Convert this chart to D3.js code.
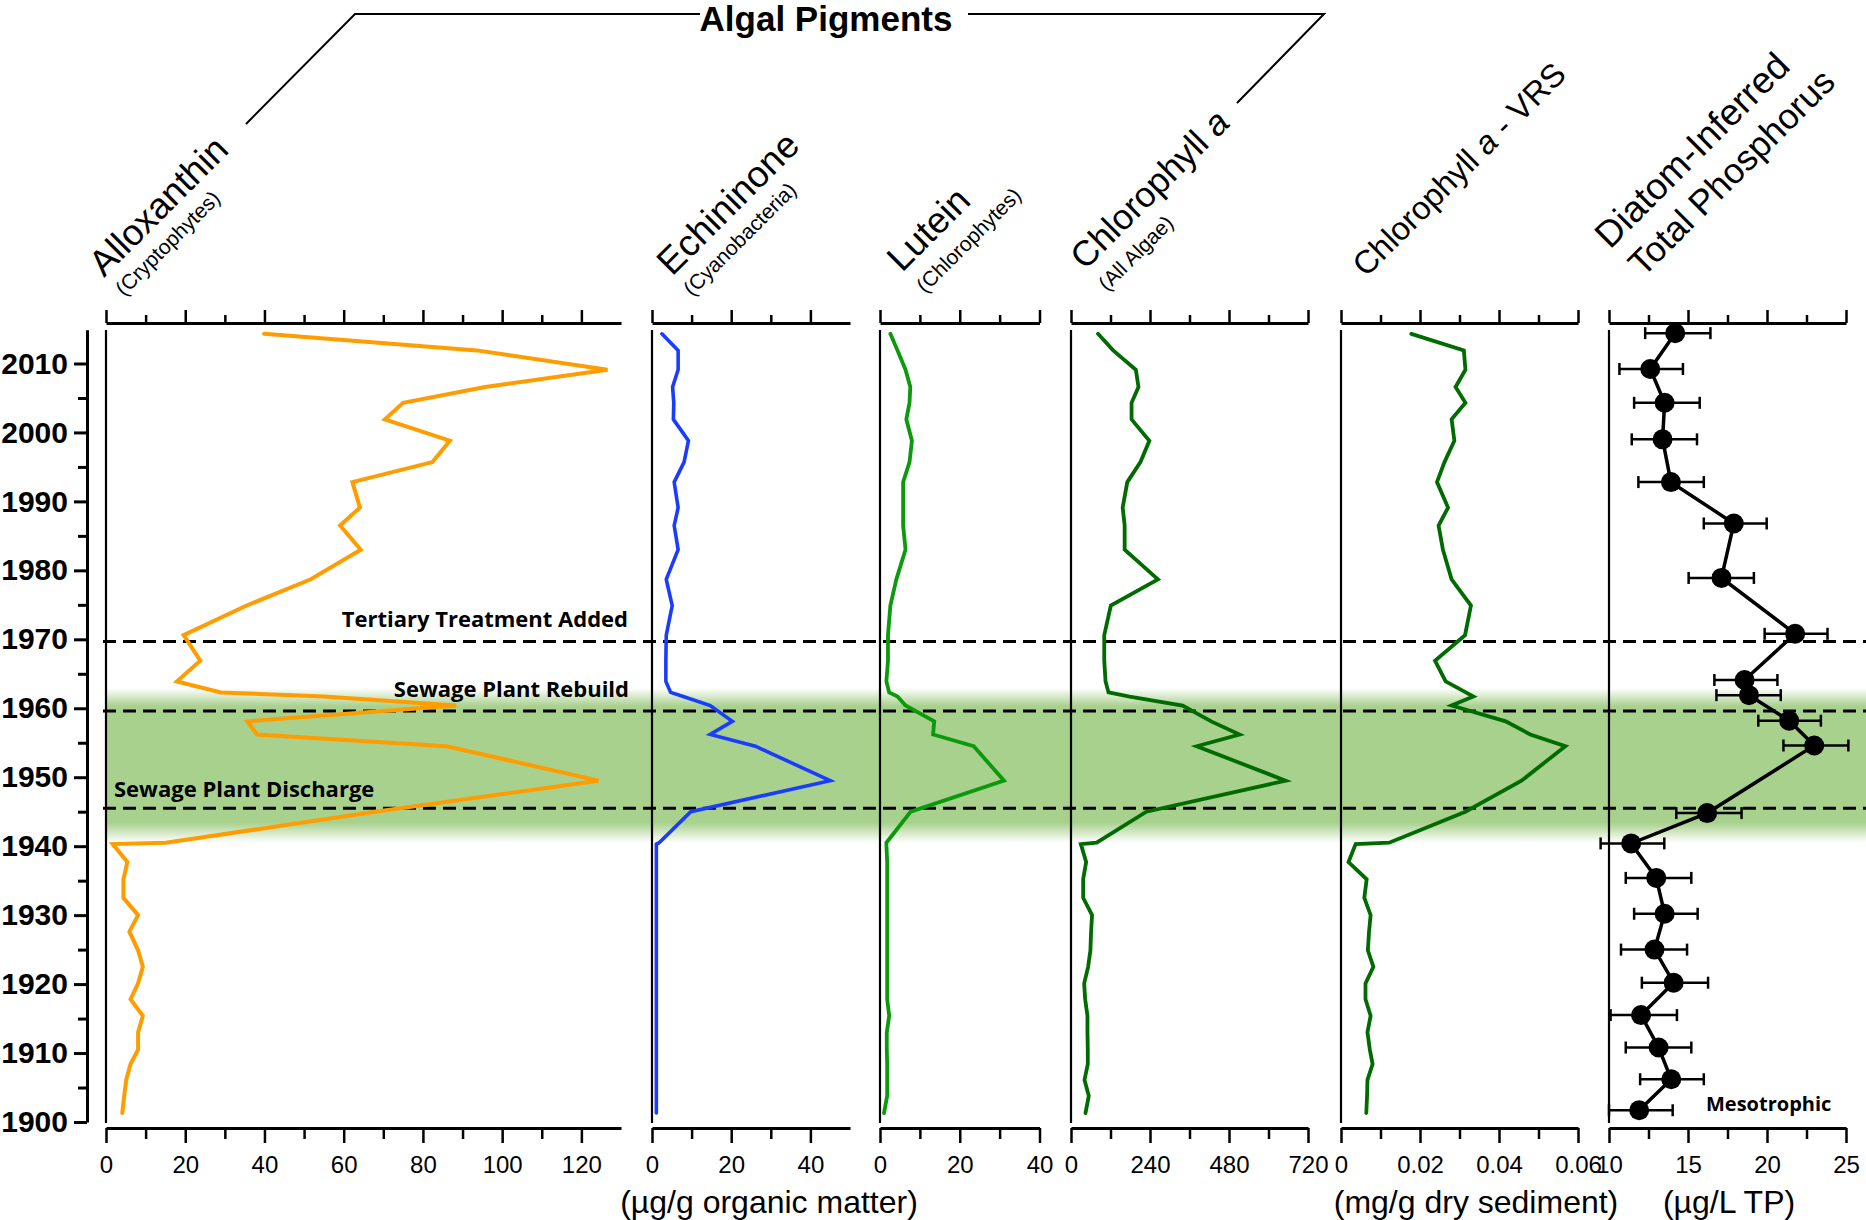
<!DOCTYPE html>
<html>
<head>
<meta charset="utf-8">
<script src="https://cdn.jsdelivr.net/npm/d3@7/dist/d3.min.js"></script>
<style>
  body { margin: 0; background: #fff; }
  svg text { font-family: "Liberation Sans", Arial, Helvetica, sans-serif; }
</style>
</head>
<body>
<svg id="chart" width="1866" height="1220"></svg>
<script>
// ---- Sediment core samples (age, years AD) ----
const sampleYears = [2014.3, 2011.9, 2009.1, 2006.6, 2004.3, 2001.9, 1998.8, 1995.7, 1992.8, 1989.1,
  1986.5, 1983.0, 1978.7, 1974.9, 1970.6, 1966.9, 1963.9, 1962.3, 1961.7, 1960.4,
  1958.1, 1956.2, 1954.5, 1949.5, 1945.0, 1940.5, 1940.3, 1937.7, 1935.2, 1932.5,
  1930.0, 1927.6, 1924.9, 1922.5, 1920.1, 1917.8, 1915.4, 1913.0, 1910.5, 1908.4,
  1906.1, 1903.8, 1901.3];

// Pigments, µg/g organic matter
const alloxanthin = [39.9, 93.6, 126.6, 95.7, 75.0, 70.4, 86.8, 82.4, 62.2, 64.1,
  59.1, 64.3, 51.7, 35.5, 19.6, 23.8, 17.9, 29.0, 54.9, 88.4,
  35.7, 38.1, 86.0, 124.3, 68.0, 15.1, 1.7, 5.4, 4.4, 4.4,
  8.1, 5.9, 8.1, 9.3, 8.1, 6.2, 9.3, 8.1, 8.1, 6.2,
  5.1, 4.6, 4.1];
const echininone = [2.5, 6.6, 6.6, 5.2, 5.5, 5.4, 9.2, 8.1, 5.6, 6.6,
  5.6, 6.6, 3.6, 5.1, 3.6, 3.5, 3.5, 4.7, 7.9, 14.7,
  20.3, 14.7, 26.1, 45.0, 9.8, 1.8, 1.1, 1.1, 1.1, 1.1,
  1.1, 1.1, 1.1, 1.1, 1.1, 1.1, 1.1, 1.1, 1.1, 1.1,
  1.1, 1.1, 1.1];
const lutein = [2.6, 4.4, 6.4, 7.6, 7.4, 6.6, 8.0, 7.4, 5.8, 5.8,
  5.8, 6.4, 4.1, 2.6, 2.0, 2.0, 1.6, 2.3, 4.4, 6.4,
  13.6, 13.3, 23.5, 31.1, 7.7, 1.6, 1.6, 1.8, 1.8, 1.8,
  1.8, 1.8, 1.8, 1.8, 1.8, 1.8, 2.3, 1.7, 1.7, 1.8,
  1.8, 1.8, 1.0];
const chlorophyllA = [82, 128, 197, 205, 184, 184, 238, 211, 171, 157,
  163, 163, 264, 121, 101, 101, 105, 114, 178, 339,
  426, 512, 382, 652, 229, 78, 30, 46, 37, 37,
  64, 61, 59, 52, 40, 43, 50, 50, 51, 51,
  41, 54, 44];
// Chlorophyll a by VRS, mg/g dry sediment
const chlorophyllVRS = [0.0178, 0.0311, 0.0315, 0.0290, 0.0315, 0.0280, 0.0287, 0.0262, 0.0243, 0.0271,
  0.0247, 0.0258, 0.0280, 0.0329, 0.0314, 0.0238, 0.0265, 0.0316, 0.0335, 0.0280,
  0.0417, 0.0479, 0.0568, 0.0457, 0.0315, 0.0122, 0.0037, 0.0019, 0.0065, 0.0059,
  0.0075, 0.0071, 0.0068, 0.0082, 0.0062, 0.0062, 0.0075, 0.0067, 0.0073, 0.0080,
  0.0067, 0.0066, 0.0064];

// Diatom-inferred total phosphorus (µg/L) with error range
const tpYears = [2014.4, 2009.2, 2004.3, 1999.0, 1992.8, 1986.8, 1978.9, 1970.8, 1964.1, 1961.9,
  1958.2, 1954.6, 1944.8, 1940.4, 1935.4, 1930.2, 1925.0, 1920.2, 1915.5, 1910.8,
  1906.2, 1901.7];
const tpValues = [14.19, 12.61, 13.52, 13.39, 13.92, 17.90, 17.12, 21.78, 18.58, 18.86,
  21.40, 22.99, 16.21, 11.40, 12.99, 13.52, 12.88, 14.09, 12.03, 13.14,
  13.94, 11.91];
const tpLow = [12.29, 10.66, 11.59, 11.44, 11.86, 16.00, 15.04, 19.85, 16.67, 16.80,
  19.45, 21.04, 14.26, 9.47, 11.06, 11.59, 10.76, 12.08, 10.10, 11.06,
  11.97, 10.00];
const tpHigh = [16.42, 14.68, 15.74, 15.57, 16.00, 19.98, 19.17, 23.83, 20.66, 20.87,
  23.41, 25.15, 18.39, 13.50, 15.21, 15.61, 14.94, 16.27, 14.30, 15.21,
  16.00, 14.03];

// Axis ticks
const yearTicks = [1900, 1910, 1920, 1930, 1940, 1950, 1960, 1970, 1980, 1990, 2000, 2010];
const alloTicks = [0, 20, 40, 60, 80, 100, 120];
const echiTicks = [0, 20, 40];
const lutTicks = [0, 20, 40];
const chlTicks = [0, 240, 480, 720];
const vrsTicks = [0, 0.02, 0.04, 0.06];
const tpTicks = [10, 15, 20, 25];

// Management events and the high-loading period
const eventYears = [1969.7, 1959.6, 1945.5];
const eventLabels = ["Tertiary Treatment Added", "Sewage Plant Rebuild", "Sewage Plant Discharge"];
const loadingPeriod = [1943.4, 1960.3];

// ---- Layout ----
const svg = d3.select("#chart");
const y = d3.scaleLinear().domain([1900, 2014.9]).range([1122, 329.7]);
const topAxisY = 323, bottomAxisY = 1128;

const panels = [
  { values: alloxanthin, range: [106, 621], domain: [0, 130], ticks: alloTicks, step: 10, last: 120, color: "#ff9c00", sw: 4 },
  { values: echininone, range: [652, 850], domain: [0, 50], ticks: echiTicks, step: 10, last: 40, color: "#1a3cff", sw: 3.6 },
  { values: lutein, range: [880, 1039.5], domain: [0, 40], ticks: lutTicks, step: 10, last: 40, color: "#0b9a0b", sw: 3.8 },
  { values: chlorophyllA, range: [1071, 1308], domain: [0, 720], ticks: chlTicks, step: 120, last: 720, color: "#006b00", sw: 3.8 },
  { values: chlorophyllVRS, range: [1341, 1578], domain: [0, 0.06], ticks: vrsTicks, step: 0.01, last: 0.06, color: "#006b00", sw: 3.8,
    fmt: d => d === 0 ? "0" : d3.format(".2f")(d) },
  { values: tpValues, range: [1609, 1846], domain: [10, 25], ticks: tpTicks, step: 2.5, last: 25, color: "#000", sw: 3.5 }
];
panels.forEach(p => { p.x = d3.scaleLinear().domain(p.domain).range(p.range); });

// ---- Shaded period with soft edges ----
const defs = svg.append("defs");
const fadeTop = 18, fadeBottom = 20;
const bandTop = y(loadingPeriod[1]) - fadeTop, bandBottom = y(loadingPeriod[0]) + fadeBottom;
const grad = defs.append("linearGradient").attr("id", "bandFade")
  .attr("x1", 0).attr("y1", 0).attr("x2", 0).attr("y2", 1);
const h = bandBottom - bandTop;
[[0, 0], [fadeTop / h, 1], [(h - fadeBottom) / h, 1], [1, 0]].forEach(([o, a]) =>
  grad.append("stop").attr("offset", o).attr("stop-color", "#a9d18e").attr("stop-opacity", a));
svg.append("rect").attr("x", 107).attr("y", bandTop).attr("width", 1866 - 107).attr("height", h)
  .attr("fill", "url(#bandFade)");

// ---- Age axis ----
const yAxis = svg.append("g").attr("transform", "translate(87,0)")
  .call(d3.axisLeft(y).tickValues(yearTicks).tickSize(13).tickSizeOuter(0).tickPadding(6).tickFormat(d3.format("d")));
yAxis.select(".domain").attr("stroke-width", 3);
yAxis.selectAll(".tick line").attr("stroke-width", 3);
yAxis.selectAll("text").attr("font-size", 30).attr("font-weight", "bold").style("font-family", '"Liberation Sans", Arial, sans-serif');
const yMinor = svg.append("g").attr("transform", "translate(87,0)")
  .call(d3.axisLeft(y).tickValues(d3.range(1905, 2010, 10)).tickSize(9).tickFormat(""));
yMinor.select(".domain").remove();
yMinor.selectAll(".tick line").attr("stroke-width", 3);

// ---- Event lines ----
svg.append("g").selectAll("line").data(eventYears).join("line")
  .attr("x1", 103).attr("x2", 1866)
  .attr("y1", d => y(d)).attr("y2", d => y(d))
  .attr("stroke", "#000").attr("stroke-width", 3).attr("stroke-dasharray", "13,7");

// ---- Panel axes ----
panels.forEach(p => {
  const minor = d3.range(p.domain[0], p.last + p.step / 2, p.step).filter(v => !p.ticks.some(t => Math.abs(t - v) < 1e-9));
  const fmt = p.fmt || (d => String(d));
  // bottom
  const gb = svg.append("g").attr("transform", `translate(0,${bottomAxisY})`)
    .call(d3.axisBottom(p.x).tickValues(p.ticks).tickSize(15).tickSizeOuter(0).tickPadding(13).tickFormat(fmt));
  gb.select(".domain").attr("stroke-width", 3);
  gb.selectAll(".tick line").attr("stroke-width", 2.5);
  gb.selectAll("text").attr("font-size", 24).style("font-family", '"Liberation Sans", Arial, sans-serif');
  const gbm = svg.append("g").attr("transform", `translate(0,${bottomAxisY})`)
    .call(d3.axisBottom(p.x).tickValues(minor).tickSize(11).tickFormat(""));
  gbm.select(".domain").remove();
  gbm.selectAll(".tick line").attr("stroke-width", 2.5);
  // top
  const gt = svg.append("g").attr("transform", `translate(0,${topAxisY})`)
    .call(d3.axisTop(p.x).tickValues(p.ticks).tickSize(13).tickSizeOuter(0).tickFormat(""));
  gt.select(".domain").attr("stroke-width", 3);
  gt.selectAll(".tick line").attr("stroke-width", 2.5);
  const gtm = svg.append("g").attr("transform", `translate(0,${topAxisY})`)
    .call(d3.axisTop(p.x).tickValues(minor).tickSize(8).tickFormat(""));
  gtm.select(".domain").remove();
  gtm.selectAll(".tick line").attr("stroke-width", 2.5);
  // left baseline of the panel
  svg.append("line").attr("x1", p.range[0]).attr("x2", p.range[0])
    .attr("y1", 330).attr("y2", 1123).attr("stroke", "#000").attr("stroke-width", 2.2);
});

// ---- Pigment profiles ----
panels.slice(0, 5).forEach(p => {
  const line = d3.line().x(d => p.x(d[1])).y(d => y(d[0]));
  const pts = sampleYears.map((yr, i) => [yr, p.values[i]]).filter(d => d[1] != null);
  svg.append("path").datum(pts).attr("d", line)
    .attr("fill", "none").attr("stroke", p.color).attr("stroke-width", p.sw)
    .attr("stroke-linejoin", "miter").attr("stroke-linecap", "round");
});

// ---- Diatom-inferred TP ----
const tp = panels[5];
const tpPts = tpYears.map((yr, i) => ({ yr, v: tpValues[i], lo: tpLow[i], hi: tpHigh[i] }));
const eb = svg.append("g").attr("stroke", "#000").attr("stroke-width", 2.5);
tpPts.forEach(d => {
  const yy = y(d.yr);
  eb.append("line").attr("x1", tp.x(d.lo)).attr("x2", tp.x(d.hi)).attr("y1", yy).attr("y2", yy);
  eb.append("line").attr("x1", tp.x(d.lo)).attr("x2", tp.x(d.lo)).attr("y1", yy - 6).attr("y2", yy + 6);
  eb.append("line").attr("x1", tp.x(d.hi)).attr("x2", tp.x(d.hi)).attr("y1", yy - 6).attr("y2", yy + 6);
});
svg.append("path").datum(tpPts)
  .attr("d", d3.line().x(d => tp.x(d.v)).y(d => y(d.yr)))
  .attr("fill", "none").attr("stroke", "#000").attr("stroke-width", 3.5);
svg.append("g").selectAll("circle").data(tpPts).join("circle")
  .attr("cx", d => tp.x(d.v)).attr("cy", d => y(d.yr)).attr("r", 10).attr("fill", "#000");

// ---- Event labels ----
const evFont = "'Open Sans', Lato, sans-serif";
const evText = (txt, x, yy, anchor, size) => svg.append("text").text(txt)
  .attr("x", x).attr("y", yy).attr("text-anchor", anchor)
  .attr("font-size", size).attr("font-weight", "bold").style("font-family", evFont);
evText(eventLabels[0], 628, 627, "end", 22);
evText(eventLabels[1], 629, 697, "end", 22);
evText(eventLabels[2], 114, 797, "start", 22);
evText("Mesotrophic", 1706, 1111, "start", 20);

// ---- Units ----
const unit = (txt, cx) => svg.append("text").text(txt).attr("x", cx).attr("y", 1213)
  .attr("text-anchor", "middle").attr("font-size", 32);
unit("(µg/g organic matter)", 769);
unit("(mg/g dry sediment)", 1476);
unit("(µg/L TP)", 1729);

// ---- Column titles (rotated) ----
function title(x, yy, parts, size) {
  const t = svg.append("text").attr("transform", `translate(${x},${yy}) rotate(-45)`).attr("font-size", size);
  parts.forEach(([s, it]) => t.append("tspan").text(s).attr("font-style", it ? "italic" : "normal"));
}
title(104, 278, [["Alloxanthin"]], 36.5);
title(124, 297, [["(Cryptophytes)"]], 21);
title(672, 277, [["Echininone"]], 37);
title(692, 297, [["(Cyanobacteria)"]], 21);
title(902, 273, [["Lutein"]], 36.5);
title(925, 294, [["(Chlorophytes)"]], 21);
title(1085, 271, [["Chlorophyll "], ["a", true]], 35.5);
title(1107, 292, [["(All Algae)"]], 21);
title(1366, 278, [["Chlorophyll "], ["a", true], [" - VRS"]], 32.5);
title(1610, 250, [["Diatom-Inferred"]], 37);
title(1643, 278, [["Total Phosphorus"]], 35.5);

// ---- Group header ----
svg.append("path").attr("d", "M246,124 L355,14 L700,14").attr("fill", "none").attr("stroke", "#000").attr("stroke-width", 2);
svg.append("path").attr("d", "M968,14 L1324,14 L1237,103").attr("fill", "none").attr("stroke", "#000").attr("stroke-width", 2);
svg.append("text").text("Algal Pigments").attr("x", 826).attr("y", 31).attr("text-anchor", "middle")
  .attr("font-size", 35).attr("font-weight", "bold");
</script>
</body>
</html>
